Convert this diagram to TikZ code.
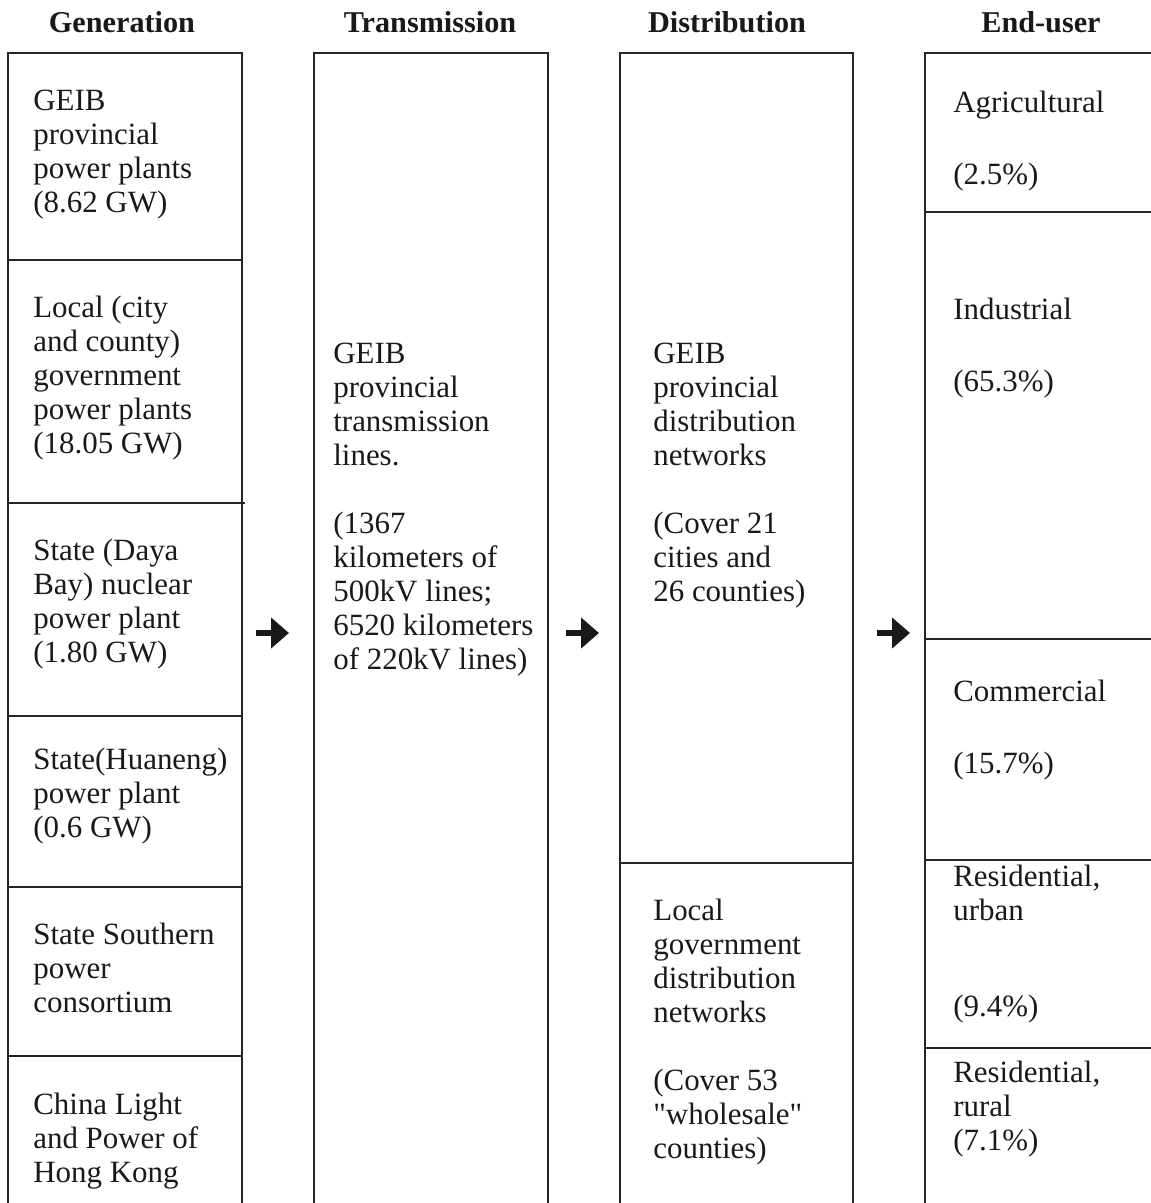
\documentclass[tikz,border=0pt]{standalone}
\usepackage{fontspec}
\setmainfont{Liberation Serif}
\usepackage{tikz}
\usetikzlibrary{arrows.meta,positioning}

\tikzset{
  frame/.style={draw=black!85,line width=1.1pt},
  celltext/.style={anchor=west,align=left,inner sep=0pt,text=black!90,
    font=\fontsize{17.6}{19.35}\selectfont},
  header/.style={anchor=base,inner sep=0pt,text=black!90,
    font=\fontsize{17.2}{19}\selectfont\bfseries},
  flow/.style={line width=0.13cm,black!90,-{Triangle[length=0.36cm,width=0.6cm]}}
}

\begin{document}
\begin{tikzpicture}[x=0.02cm,y=-0.02cm]
  \useasboundingbox (0,0) rectangle (1151,1203);
  \clip (0,0) rectangle (1151,1203);

  \node[header] (hgen) at (122,33) {Generation};
  \node[header] (htrans) at (430,33) {Transmission};
  \node[header] (hdist) at (727,33) {Distribution};
  \node[header] (hend) at (1041,33) {End-user};

  \draw[frame] (8,1203) |- (242,53) -- (242,1203);
  \foreach \y in {260,716,887,1056} {
    \draw[frame] (8,\y) -- (242,\y);
  }
  \draw[frame] (8,503) -- (245,503);
  \draw[frame] (314,1203) |- (548,53) -- (548,1203);
  \draw[frame] (620,1203) |- (853,53) -- (853,1203);
  \draw[frame] (620,863) -- (853,863);
  \draw[frame] (925,1203) |- (1159,53);
  \foreach \y in {212,639,860,1048} {
    \draw[frame] (925,\y) -- (1159,\y);
  }

  \node[celltext] (gen1) at (33,155) {GEIB\\provincial\\power plants\\(8.62 GW)};
  \node[celltext] (gen2) at (33,378) {Local (city\\and county)\\government\\power plants\\(18.05 GW)};
  \node[celltext] (gen3) at (33,604) {State (Daya\\Bay) nuclear\\power plant\\(1.80 GW)};
  \node[celltext] (gen4) at (33,796) {State(Huaneng)\\power plant\\(0.6 GW)};
  \node[celltext] (gen5) at (33,968) {State Southern\\power\\consortium};
  \node[celltext] (gen6) at (33,1141) {China Light\\and Power of\\Hong Kong};

  \node[celltext] (trans) at (333,510) {GEIB\\provincial\\transmission\\lines.\\[\baselineskip]
    (1367\\kilometers of\\500kV lines;\\6520 kilometers\\of 220kV lines)};

  \node[celltext] (dist1) at (653,476) {GEIB\\provincial\\distribution\\networks\\[\baselineskip]
    (Cover 21\\cities and\\26 counties)};
  \node[celltext] (dist2) at (653,1032) {Local\\government\\distribution\\networks\\[\baselineskip]
    (Cover 53\\\textquotedbl wholesale\textquotedbl\\counties)};

  \node[celltext] (end1) at (953,141) {Agricultural\\[1.1\baselineskip](2.5\%)};
  \node[celltext] (end2) at (953,348) {Industrial\\[1.1\baselineskip](65.3\%)};
  \node[celltext] (end3) at (953,730) {Commercial\\[1.1\baselineskip](15.7\%)};
  \node[celltext] (end4) at (953,944) {Residential,\\urban\\[1.8\baselineskip](9.4\%)};
  \node[celltext] (end5) at (953,1109) {Residential,\\rural\\(7.1\%)};

  \coordinate (genout) at (256,633);
  \coordinate (transin) at (289,633);
  \coordinate (transout) at (566,633);
  \coordinate (distin) at (599,633);
  \coordinate (distout) at (877,633);
  \coordinate (endin) at (910,633);
  \draw[flow] (genout) -- (transin);
  \draw[flow] (transout) -- (distin);
  \draw[flow] (distout) -- (endin);
\end{tikzpicture}
\end{document}
